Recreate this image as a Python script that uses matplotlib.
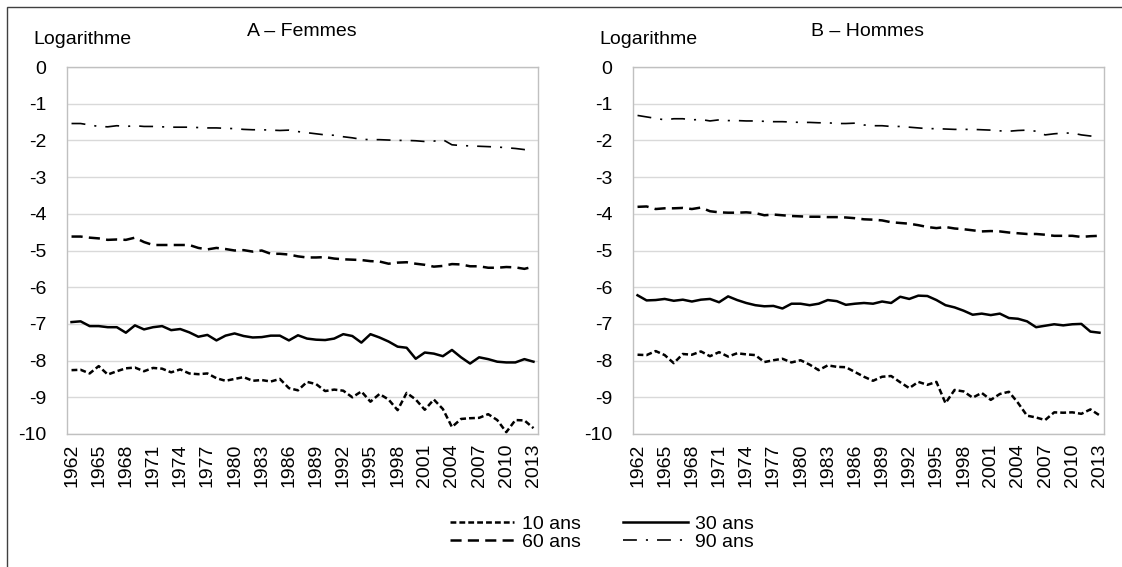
import matplotlib
matplotlib.use("Agg")
import matplotlib.pyplot as plt
from matplotlib.patches import Rectangle

plt.rcParams['font.family'] = ['Liberation Sans', 'DejaVu Sans']
plt.rcParams['font.size'] = 14
plt.rcParams['axes.unicode_minus'] = False
plt.rcParams['lines.scale_dashes'] = False

years = list(range(1962, 2014))
tick_years = list(range(1962, 2014, 3))
panel_titles = ['A – Femmes', 'B – Hommes']
series_labels = ['10 ans', '30 ans', '60 ans', '90 ans']

# Femmes
f10 = [-8.26, -8.25, -8.35, -8.15, -8.38, -8.29, -8.21, -8.19, -8.29, -8.20,
       -8.22, -8.32, -8.24, -8.35, -8.37, -8.35, -8.48, -8.55, -8.50, -8.45,
       -8.55, -8.53, -8.57, -8.50, -8.75, -8.81, -8.58, -8.64, -8.83, -8.79,
       -8.82, -9.00, -8.84, -9.12, -8.91, -9.06, -9.35, -8.88, -9.06, -9.34,
       -9.06, -9.32, -9.81, -9.59, -9.57, -9.56, -9.46, -9.62, -9.95, -9.62,
       -9.63, -9.84]
f30 = [-6.95, -6.93, -7.06, -7.06, -7.09, -7.09, -7.24, -7.04, -7.15, -7.09,
       -7.06, -7.17, -7.14, -7.23, -7.35, -7.30, -7.45, -7.32, -7.26, -7.33,
       -7.37, -7.36, -7.32, -7.32, -7.45, -7.31, -7.40, -7.43, -7.44, -7.40,
       -7.28, -7.33, -7.51, -7.28, -7.37, -7.48, -7.62, -7.65, -7.95, -7.78,
       -7.81, -7.88, -7.71, -7.91, -8.08, -7.91, -7.96, -8.03, -8.05, -8.05,
       -7.96, -8.03]
f60 = [-4.62, -4.62, -4.65, -4.67, -4.71, -4.70, -4.71, -4.65, -4.77, -4.85,
       -4.85, -4.85, -4.85, -4.85, -4.93, -4.97, -4.93, -4.96, -5.00, -4.99,
       -5.03, -5.00, -5.09, -5.09, -5.11, -5.16, -5.19, -5.19, -5.18, -5.22,
       -5.24, -5.25, -5.26, -5.29, -5.30, -5.36, -5.33, -5.32, -5.36, -5.39,
       -5.44, -5.42, -5.37, -5.38, -5.43, -5.43, -5.47, -5.47, -5.45, -5.46,
       -5.50, -5.44]
f90 = [-1.54, -1.54, -1.58, -1.62, -1.63, -1.60, -1.62, -1.60, -1.62, -1.62,
       -1.63, -1.64, -1.64, -1.64, -1.65, -1.66, -1.66, -1.67, -1.68, -1.70,
       -1.71, -1.71, -1.72, -1.73, -1.72, -1.76, -1.79, -1.82, -1.85, -1.86,
       -1.90, -1.93, -1.97, -1.98, -1.98, -1.99, -2.00, -2.00, -2.01, -2.03,
       -2.02, -1.98, -2.12, -2.14, -2.15, -2.16, -2.17, -2.18, -2.20, -2.22,
       -2.25, -2.22]

# Hommes
m10 = [-7.84, -7.85, -7.74, -7.85, -8.07, -7.82, -7.84, -7.75, -7.88, -7.77,
       -7.89, -7.80, -7.83, -7.85, -8.04, -7.99, -7.95, -8.05, -7.99, -8.11,
       -8.26, -8.13, -8.17, -8.18, -8.31, -8.44, -8.55, -8.44, -8.42, -8.59,
       -8.75, -8.58, -8.66, -8.58, -9.16, -8.80, -8.84, -9.01, -8.88, -9.07,
       -8.91, -8.85, -9.15, -9.50, -9.55, -9.62, -9.41, -9.42, -9.41, -9.45,
       -9.33, -9.49]
m30 = [-6.22, -6.36, -6.35, -6.32, -6.37, -6.34, -6.39, -6.34, -6.32, -6.41,
       -6.25, -6.35, -6.43, -6.49, -6.52, -6.51, -6.58, -6.45, -6.45, -6.49,
       -6.45, -6.35, -6.38, -6.48, -6.45, -6.43, -6.45, -6.39, -6.43, -6.26,
       -6.32, -6.23, -6.24, -6.35, -6.49, -6.55, -6.64, -6.75, -6.72, -6.76,
       -6.72, -6.84, -6.86, -6.93, -7.09, -7.05, -7.01, -7.04, -7.01, -7.00,
       -7.21, -7.24]
m60 = [-3.81, -3.80, -3.87, -3.85, -3.85, -3.84, -3.87, -3.83, -3.93, -3.96,
       -3.97, -3.97, -3.96, -3.98, -4.04, -4.02, -4.04, -4.06, -4.07, -4.08,
       -4.08, -4.09, -4.09, -4.10, -4.12, -4.15, -4.16, -4.18, -4.23, -4.25,
       -4.27, -4.31, -4.36, -4.39, -4.36, -4.40, -4.42, -4.45, -4.48, -4.47,
       -4.48, -4.51, -4.53, -4.55, -4.55, -4.57, -4.60, -4.60, -4.60, -4.63,
       -4.61, -4.60]
m90 = [-1.32, -1.36, -1.40, -1.44, -1.41, -1.41, -1.44, -1.43, -1.47, -1.44,
       -1.46, -1.46, -1.47, -1.47, -1.48, -1.49, -1.49, -1.50, -1.51, -1.51,
       -1.52, -1.52, -1.54, -1.54, -1.53, -1.58, -1.60, -1.60, -1.62, -1.62,
       -1.64, -1.66, -1.68, -1.68, -1.69, -1.70, -1.70, -1.70, -1.71, -1.72,
       -1.74, -1.75, -1.73, -1.72, -1.75, -1.85, -1.82, -1.80, -1.80, -1.85,
       -1.88, -1.90]

# line styles, dash lengths in points
styles = {
    '10 ans': dict(lw=1.8, dashes=(4.2, 2.2)),
    '30 ans': dict(lw=1.8),
    '60 ans': dict(lw=1.8, dashes=(8, 4.5)),
    '90 ans': dict(lw=1.2, dashes=(10, 6.5, 1.5, 6.5)),
}

W, H = 1122, 567
fig = plt.figure(figsize=(W / 100, H / 100), dpi=100)

# outer frame (only top and left edges fall inside the picture)
fig.patches.append(Rectangle((7 / W, -0.1), 1.2, 1.1 - 7 / H + 0.0,
                             transform=fig.transFigure, fill=False,
                             edgecolor='#404040', lw=1))

panels = [(67, panel_titles[0], [f10, f30, f60, f90]),
          (633, panel_titles[1], [m10, m30, m60, m90])]

x = list(range(len(years)))
handles = {}
for left, title, data in panels:
    ax = fig.add_axes([left / W, 1 - 434 / H, 471 / W, 367 / H])
    for lab, vals in zip(series_labels, data):
        ln, = ax.plot(x, vals, color='black', label=lab, **styles[lab])
        ln.set_solid_joinstyle('round')
        ln.set_dash_joinstyle('round')
        handles[lab] = ln
    ax.set_xlim(-0.5, len(years) - 0.5)
    ax.set_ylim(-10, 0)
    ax.set_yticks(range(-10, 1))
    ax.set_xticks([years.index(y) for y in tick_years])
    ax.set_xticklabels([str(y) for y in tick_years], rotation=90)
    ax.tick_params(length=0, labelsize=14)
    ax.tick_params(axis='y', pad=15)
    ax.tick_params(axis='x', pad=7)
    ax.grid(axis='y', color='#d9d9d9', lw=1)
    ax.set_axisbelow(True)
    for sp in ax.spines.values():
        sp.set_color('#c0c0c0')
        sp.set_linewidth(1)
    fig.text((left + 235) / W, 1 - 32 / H, title, ha='center', va='center', fontsize=14)
    fig.text((left - 34) / W, 1 - 40 / H, 'Logarithme', ha='left', va='center', fontsize=14)

order = ['10 ans', '60 ans', '30 ans', '90 ans']
fig.legend([handles[k] for k in order], order, ncol=2, loc='center',
           bbox_to_anchor=(602 / W, 1 - 533 / H), frameon=False,
           handlelength=3.3, handletextpad=0.4, columnspacing=2.2,
           labelspacing=0.0, fontsize=14, borderpad=0)

fig.savefig('out.png', dpi=100)
